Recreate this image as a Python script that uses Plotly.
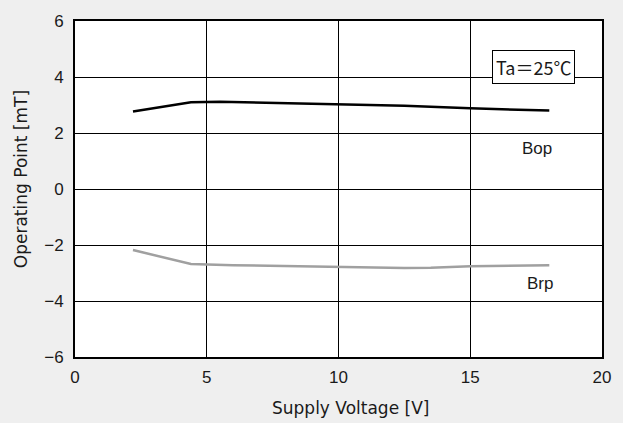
import plotly.graph_objects as go

bop_x = [2.2, 4.4, 5.5, 8.0, 10.0, 12.5, 15.0, 17.0, 18.0]
bop_y = [2.77, 3.10, 3.12, 3.07, 3.02, 2.97, 2.88, 2.82, 2.80]
brp_x = [2.2, 4.4, 6.0, 8.0, 10.0, 12.5, 13.5, 15.0, 18.0]
brp_y = [-2.18, -2.68, -2.72, -2.75, -2.79, -2.82, -2.81, -2.76, -2.72]

x_ticks = [0, 5, 10, 15, 20]
y_ticks = [-6, -4, -2, 0, 2, 4, 6]
y_tick_text = ["−6", "−4", "−2", "0", "2", "4", "6"]

x_title = "Supply Voltage [V]"
y_title = "Operating Point [mT]"

font = "Liberation Sans, Arial, Noto Sans CJK JP, sans-serif"
title_font = "DejaVu Sans, sans-serif"
cjk = "Noto Sans CJK JP, sans-serif"
ink = "#1a1a1a"

fig = go.Figure()
fig.add_trace(go.Scatter(x=bop_x, y=bop_y, mode="lines", line=dict(color="black", width=2.5), name="Bop"))
fig.add_trace(go.Scatter(x=brp_x, y=brp_y, mode="lines", line=dict(color="#a0a0a0", width=2.5), name="Brp"))

fig.add_annotation(x=17.55, y=1.45, text="Bop", showarrow=False, font=dict(size=17, color=ink, family=font))
fig.add_annotation(x=17.65, y=-3.37, text="Brp", showarrow=False, font=dict(size=17, color=ink, family=font))
fig.add_annotation(x=17.4, y=4.37, text="Ta＝25℃", showarrow=False, font=dict(size=18, color=ink, family=cjk),
                   bordercolor="black", borderwidth=1, bgcolor="white", borderpad=3)

# axis titles (placed as paper annotations to match the reference offsets)
fig.add_annotation(xref="paper", yref="paper", x=0.523, y=-0.151, xanchor="center", yanchor="middle",
                   text=x_title, showarrow=False, font=dict(size=17, color=ink, family=title_font))
fig.add_annotation(xref="paper", yref="paper", x=-0.102, y=0.53, xanchor="center", yanchor="middle",
                   text=y_title, showarrow=False, textangle=-90,
                   font=dict(size=17, color=ink, family=title_font))

fig.update_layout(
    width=623, height=423,
    margin=dict(l=75, r=20, t=19, b=66),
    paper_bgcolor="#efefef", plot_bgcolor="white",
    showlegend=False,
    font=dict(family=font, color=ink),
    xaxis=dict(range=[0, 20], tickvals=x_ticks, showgrid=True, gridcolor="black", gridwidth=1,
               zeroline=False, showline=True, linecolor="black", linewidth=2, mirror=True,
               ticks="", ticklabelstandoff=4, tickfont=dict(size=17, family=font, color=ink)),
    yaxis=dict(range=[-6, 6], tickvals=y_ticks, ticktext=y_tick_text,
               showgrid=True, gridcolor="black", gridwidth=1,
               zeroline=False, showline=True, linecolor="black", linewidth=2, mirror=True,
               ticks="", ticklabelstandoff=6, tickfont=dict(size=17, family=font, color=ink)),
)

fig.write_html("out.html", config={"displayModeBar": False},
               post_script="document.body.style.margin='0';document.body.style.padding='0';")
